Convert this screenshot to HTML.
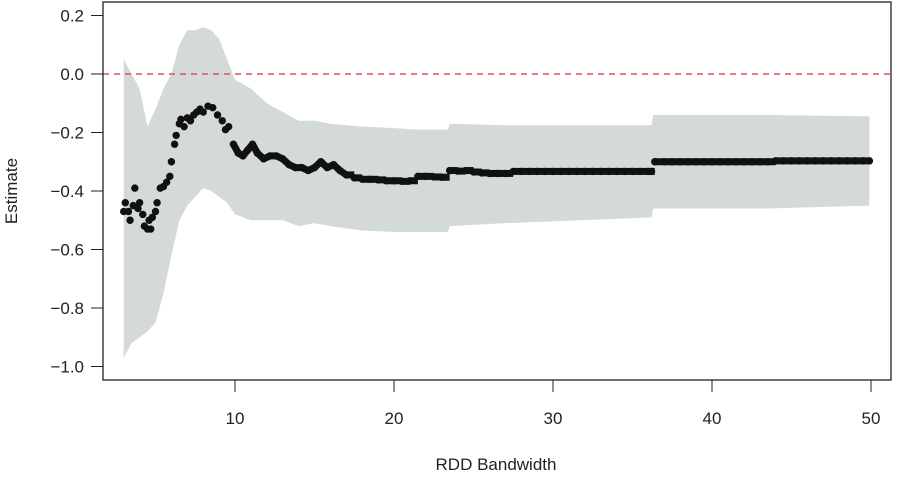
<!DOCTYPE html>
<html><head><meta charset="utf-8"><style>
html,body{margin:0;padding:0;background:#fff}
svg text{font-family:"Liberation Sans",sans-serif;fill:#222}
</style></head><body>
<svg id="chart" width="902" height="475" viewBox="0 0 902 475" xmlns="http://www.w3.org/2000/svg">
<g id="band"></g>
<line x1="103" x2="891" y1="74" y2="74" stroke="#e0504a" stroke-width="1.5" stroke-dasharray="6,5"/>
<g id="pts"></g>
<rect x="103" y="2" width="788" height="378" fill="none" stroke="#222" stroke-width="1.3"/>
<g id="axes"></g>
<text x="496" y="470" font-size="17" text-anchor="middle">RDD Bandwidth</text>
<text x="17" y="191" font-size="17" text-anchor="middle" transform="rotate(-90 17 191)">Estimate</text>
</svg>
<script>
const bw=[3.0,3.1,3.3,3.4,3.6,3.7,3.9,4.0,4.2,4.3,4.5,4.6,4.7,4.8,5.0,5.1,5.3,5.5,5.7,5.9,6.0,6.2,6.3,6.5,6.6,6.8,7.0,7.2,7.4,7.6,7.8,8.0,8.3,8.6,8.9,9.2,9.4,9.6,9.9,10.2,10.5,10.8,11.1,11.4,11.8,12.2,12.6,13.0,13.4,13.8,14.2,14.6,15.0,15.4,15.8,16.2,16.6,17.0,17.5,18,18.5,19,19.5,20,20.5,21,21.5,22,22.5,23,23.5,24,24.5,25,25.5,26,26.5,27,27.5,28,28.5,29,29.5,30,30.5,31,31.5,32,32.5,33,33.5,34,34.5,35,35.5,36,36.2,36.4,37,37.5,38,38.5,39,39.5,40,40.5,41,41.5,42,42.5,43,43.5,44,44.5,45,45.5,46,46.5,47,47.5,48,48.5,49,49.5,49.9];
const est=[-0.47,-0.44,-0.47,-0.50,-0.45,-0.39,-0.46,-0.44,-0.48,-0.52,-0.53,-0.50,-0.53,-0.49,-0.47,-0.44,-0.39,-0.385,-0.37,-0.35,-0.30,-0.24,-0.21,-0.17,-0.155,-0.18,-0.15,-0.16,-0.14,-0.13,-0.12,-0.13,-0.11,-0.115,-0.14,-0.16,-0.19,-0.18,-0.24,-0.27,-0.28,-0.26,-0.24,-0.27,-0.29,-0.28,-0.28,-0.29,-0.31,-0.32,-0.32,-0.33,-0.32,-0.30,-0.32,-0.31,-0.33,-0.345,-0.355,-0.36,-0.36,-0.362,-0.365,-0.365,-0.367,-0.365,-0.35,-0.35,-0.352,-0.353,-0.33,-0.332,-0.33,-0.335,-0.338,-0.34,-0.34,-0.34,-0.333,-0.333,-0.333,-0.333,-0.333,-0.333,-0.333,-0.333,-0.333,-0.333,-0.333,-0.333,-0.333,-0.333,-0.333,-0.333,-0.333,-0.333,-0.333,-0.30,-0.30,-0.30,-0.30,-0.30,-0.30,-0.30,-0.30,-0.30,-0.30,-0.30,-0.30,-0.30,-0.30,-0.30,-0.297,-0.297,-0.297,-0.297,-0.297,-0.297,-0.297,-0.297,-0.297,-0.297,-0.297,-0.297,-0.297];
const bandX=[3.0,3.5,4.0,4.5,5.0,5.5,6.0,6.5,7.0,7.5,8.0,8.5,9.0,9.5,10,11,12,13,14,15,16,18,20,21.5,23.4,23.5,27,36.2,36.3,43.5,49.9];
const bandHi=[0.05,0.0,-0.05,-0.18,-0.12,-0.05,0.0,0.1,0.15,0.15,0.16,0.15,0.12,0.05,-0.02,-0.05,-0.1,-0.13,-0.16,-0.16,-0.17,-0.18,-0.185,-0.19,-0.19,-0.17,-0.175,-0.175,-0.14,-0.14,-0.145];
const bandLo=[-0.97,-0.92,-0.9,-0.88,-0.85,-0.75,-0.62,-0.5,-0.45,-0.42,-0.39,-0.40,-0.42,-0.44,-0.48,-0.5,-0.5,-0.5,-0.52,-0.51,-0.52,-0.535,-0.54,-0.54,-0.54,-0.52,-0.51,-0.49,-0.46,-0.46,-0.45];
const xTicks=[10,20,30,40,50];
const yTicks=[0.2,0.0,-0.2,-0.4,-0.6,-0.8,-1.0];
const NS='http://www.w3.org/2000/svg';
const sx=v=>235+(v-10)*15.9;
const sy=v=>74-v*292.5;
const band=document.getElementById('band');
let d='M'+sx(bandX[0])+','+sy(bandHi[0]);
for(let i=1;i<bandX.length;i++) d+=' L'+sx(bandX[i])+','+sy(bandHi[i]);
for(let i=bandX.length-1;i>=0;i--) d+=' L'+sx(bandX[i])+','+sy(bandLo[i]);
const p=document.createElementNS(NS,'path');
p.setAttribute('d',d+'Z');p.setAttribute('fill','#d4dad9');


band.appendChild(p);
const pts=document.getElementById('pts');
for(let i=0;i<bw.length;i++){
  const c=document.createElementNS(NS,'circle');
  c.setAttribute('cx',sx(bw[i]));c.setAttribute('cy',sy(est[i]));c.setAttribute('r',3.7);c.setAttribute('fill','#111');
  
  
  pts.appendChild(c);
  if(i<bw.length-1 && bw[i]>=9.9){
    const l=document.createElementNS(NS,'line');
    l.setAttribute('x1',sx(bw[i]));l.setAttribute('x2',sx(bw[i+1]));
    l.setAttribute('y1',sy(est[i]));l.setAttribute('y2',sy(bw[i]>=17?est[i]:est[i+1]));
    l.setAttribute('stroke','#111');l.setAttribute('stroke-width',7);
    
    
    pts.appendChild(l);
  }
}
const axes=document.getElementById('axes');
xTicks.forEach(t=>{
  const l=document.createElementNS(NS,'line');
  l.setAttribute('x1',sx(t));l.setAttribute('x2',sx(t));l.setAttribute('y1',380);l.setAttribute('y2',392);l.setAttribute('stroke','#222');
  
  
  axes.appendChild(l);
  const tx=document.createElementNS(NS,'text');
  tx.setAttribute('x',sx(t));tx.setAttribute('y',424);tx.setAttribute('font-size',17);tx.setAttribute('text-anchor','middle');
  tx.textContent=t;
  
  
  axes.appendChild(tx);
});
yTicks.forEach(t=>{
  const l=document.createElementNS(NS,'line');
  l.setAttribute('x1',91);l.setAttribute('x2',103);l.setAttribute('y1',sy(t));l.setAttribute('y2',sy(t));l.setAttribute('stroke','#222');
  
  
  axes.appendChild(l);
  const tx=document.createElementNS(NS,'text');
  tx.setAttribute('x',84);tx.setAttribute('y',sy(t)+6);tx.setAttribute('font-size',17);tx.setAttribute('text-anchor','end');
  tx.textContent=(t<0?'\u2212':'')+Math.abs(t).toFixed(1);
  
  
  axes.appendChild(tx);
});
</script>
</body></html>
